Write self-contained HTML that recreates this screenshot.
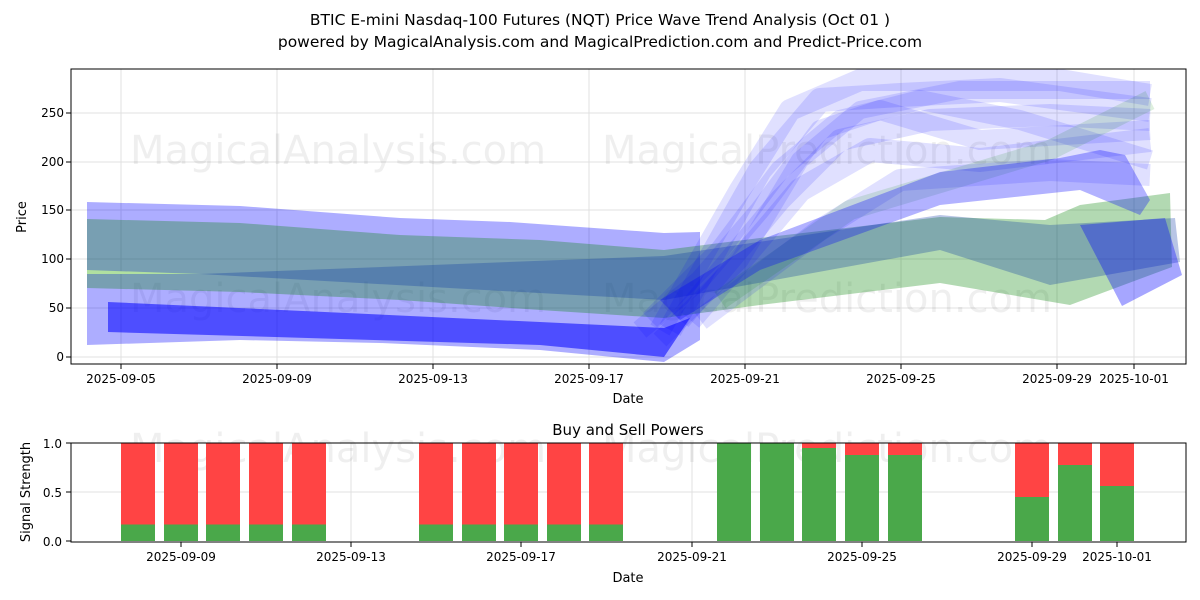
<!DOCTYPE html>
<html><head><meta charset="utf-8"><style>
body{margin:0;background:#fff}
svg{display:block;font-family:"DejaVu Sans","Liberation Sans",sans-serif}
</style></head><body>
<svg width="1200" height="600" viewBox="0 0 1200 600" xmlns="http://www.w3.org/2000/svg">
<rect width="1200" height="600" fill="#fff"/>
<text x="600" y="25" text-anchor="middle" font-size="15.5">BTIC E-mini Nasdaq-100 Futures (NQT) Price Wave Trend Analysis (Oct 01 )</text>
<text x="600" y="47" text-anchor="middle" font-size="15.5">powered by MagicalAnalysis.com and MagicalPrediction.com and Predict-Price.com</text>

<g stroke="#e0e0e0" stroke-width="1">
<line x1="121" y1="69" x2="121" y2="364"/><line x1="277" y1="69" x2="277" y2="364"/><line x1="433" y1="69" x2="433" y2="364"/><line x1="589" y1="69" x2="589" y2="364"/><line x1="745" y1="69" x2="745" y2="364"/><line x1="901" y1="69" x2="901" y2="364"/><line x1="1057" y1="69" x2="1057" y2="364"/><line x1="1134" y1="69" x2="1134" y2="364"/>
<line x1="71" y1="357" x2="1186" y2="357"/><line x1="71" y1="308" x2="1186" y2="308"/><line x1="71" y1="259" x2="1186" y2="259"/><line x1="71" y1="210" x2="1186" y2="210"/><line x1="71" y1="162" x2="1186" y2="162"/><line x1="71" y1="113" x2="1186" y2="113"/>
</g>
<g font-size="40" fill="#000" opacity="0.06">
<text x="130" y="164">MagicalAnalysis.com</text><text x="602" y="164">MagicalPrediction.com</text>
<text x="130" y="312">MagicalAnalysis.com</text><text x="602" y="312">MagicalPrediction.com</text>
</g>
<g>
<polygon points="87,202 240,206 400,218 510,222 664,233 700,232 700,340 664,362 540,350 380,343 240,340 87,345" fill="#0000ff" fill-opacity="0.32"/>
<polygon points="87,219 240,223 400,235 540,240 664,250 760,238 940,217 1045,220 1080,205 1170,193 1172,267 1070,305 940,283 760,305 664,318 540,310 400,300 240,292 87,288" fill="#008000" fill-opacity="0.3"/>
<polygon points="87,270 87,274 200,274" fill="#b0e0a0"/>
<polygon points="200,274 664,256 940,215 1050,225 1175,218 1180,262 1050,285 940,250 664,300" fill="#0030a0" fill-opacity="0.28"/>
<polygon points="108,302 540,322 664,328 690,318 664,357 540,345 108,332" fill="#0000ff" fill-opacity="0.55"/>
<g fill="none" stroke="#0000ff" stroke-linejoin="round" stroke-opacity="0.12">
<polyline stroke-width="22" points="660,330 740,190 790,110 860,80 950,80 1060,80 1150,95"/>
<polyline stroke-width="24" points="670,330 760,170 820,100 900,95 1000,90 1150,110"/>
<polyline stroke-width="22" points="680,320 780,200 840,140 930,120 1050,115 1150,120"/>
<polyline stroke-width="24" points="690,320 800,190 870,150 980,160 1150,140"/>
<polyline stroke-width="22" points="700,320 820,230 900,180 1050,170 1150,175"/>
<polyline stroke-width="20" points="650,320 720,250 780,170 840,120 920,100 1020,120 1150,160"/>
<polyline stroke-width="20" points="640,330 700,280 760,210 820,130 880,110 980,140 1150,130"/>
<polyline stroke-width="18" points="660,340 740,260 800,160 860,110 960,90 1150,90"/>
</g>
<polyline fill="none" stroke="#008000" stroke-width="20" stroke-opacity="0.13" stroke-linejoin="round" points="720,300 850,210 950,180 1050,150 1150,100"/>
<polygon points="660,300 760,240 940,172 1060,158 1100,150 1125,155 1150,200 1140,215 1080,190 940,205 760,270 680,320" fill="#0000ff" fill-opacity="0.3"/>
<polygon points="1080,225 1165,218 1182,275 1122,306" fill="#0000ff" fill-opacity="0.35"/>
</g>
<rect x="71" y="69" width="1115" height="295" fill="none" stroke="#000" stroke-width="1"/>
<g font-size="12" text-anchor="end">
<text x="64" y="361">0</text><text x="64" y="312">50</text><text x="64" y="263">100</text><text x="64" y="214">150</text><text x="64" y="166">200</text><text x="64" y="117">250</text>
</g>
<g stroke="#000"><line x1="66" y1="357" x2="71" y2="357"/><line x1="66" y1="308" x2="71" y2="308"/><line x1="66" y1="259" x2="71" y2="259"/><line x1="66" y1="210" x2="71" y2="210"/><line x1="66" y1="162" x2="71" y2="162"/><line x1="66" y1="113" x2="71" y2="113"/>
<line x1="121" y1="364" x2="121" y2="369"/><line x1="277" y1="364" x2="277" y2="369"/><line x1="433" y1="364" x2="433" y2="369"/><line x1="589" y1="364" x2="589" y2="369"/><line x1="745" y1="364" x2="745" y2="369"/><line x1="901" y1="364" x2="901" y2="369"/><line x1="1057" y1="364" x2="1057" y2="369"/><line x1="1134" y1="364" x2="1134" y2="369"/></g>
<g font-size="12" text-anchor="middle">
<text x="121" y="383">2025-09-05</text><text x="277" y="383">2025-09-09</text><text x="433" y="383">2025-09-13</text><text x="589" y="383">2025-09-17</text><text x="745" y="383">2025-09-21</text><text x="901" y="383">2025-09-25</text><text x="1057" y="383">2025-09-29</text><text x="1134" y="383">2025-10-01</text>
<text x="628" y="403" font-size="13">Date</text>
</g>
<text transform="translate(26,217) rotate(-90)" font-size="13" text-anchor="middle">Price</text>

<text x="628" y="435" text-anchor="middle" font-size="15">Buy and Sell Powers</text>
<g stroke="#e0e0e0"><line x1="181" y1="443" x2="181" y2="542"/><line x1="351" y1="443" x2="351" y2="542"/><line x1="521" y1="443" x2="521" y2="542"/><line x1="692" y1="443" x2="692" y2="542"/><line x1="862" y1="443" x2="862" y2="542"/><line x1="1032" y1="443" x2="1032" y2="542"/><line x1="1117" y1="443" x2="1117" y2="542"/>
<line x1="71" y1="492" x2="1186" y2="492"/><line x1="71" y1="443" x2="1186" y2="443"/></g>
<g font-size="40" fill="#000" opacity="0.06"><text x="130" y="462">MagicalAnalysis.com</text><text x="602" y="462">MagicalPrediction.com</text></g>
<g fill="#ff4444">
<rect x="121" y="443" width="34" height="98"/><rect x="164" y="443" width="34" height="98"/><rect x="206" y="443" width="34" height="98"/><rect x="249" y="443" width="34" height="98"/><rect x="292" y="443" width="34" height="98"/>
<rect x="419" y="443" width="34" height="98"/><rect x="462" y="443" width="34" height="98"/><rect x="504" y="443" width="34" height="98"/><rect x="547" y="443" width="34" height="98"/><rect x="589" y="443" width="34" height="98"/>
<rect x="717" y="443" width="34" height="98"/><rect x="760" y="443" width="34" height="98"/><rect x="802" y="443" width="34" height="98"/><rect x="845" y="443" width="34" height="98"/><rect x="888" y="443" width="34" height="98"/>
<rect x="1015" y="443" width="34" height="98"/><rect x="1058" y="443" width="34" height="98"/><rect x="1100" y="443" width="34" height="98"/>
</g>
<g fill="#4aa84a">
<rect x="121" y="524.5" width="34" height="16.5"/><rect x="164" y="524.5" width="34" height="16.5"/><rect x="206" y="524.5" width="34" height="16.5"/><rect x="249" y="524.5" width="34" height="16.5"/><rect x="292" y="524.5" width="34" height="16.5"/>
<rect x="419" y="524.5" width="34" height="16.5"/><rect x="462" y="524.5" width="34" height="16.5"/><rect x="504" y="524.5" width="34" height="16.5"/><rect x="547" y="524.5" width="34" height="16.5"/><rect x="589" y="524.5" width="34" height="16.5"/>
<rect x="717" y="443" width="34" height="98"/><rect x="760" y="443" width="34" height="98"/><rect x="802" y="448" width="34" height="93"/><rect x="845" y="455" width="34" height="86"/><rect x="888" y="455" width="34" height="86"/>
<rect x="1015" y="497" width="34" height="44"/><rect x="1058" y="465" width="34" height="76"/><rect x="1100" y="486" width="34" height="55"/>
</g>
<rect x="71" y="443" width="1115" height="99" fill="none" stroke="#000"/>
<g stroke="#000"><line x1="66" y1="541" x2="71" y2="541"/><line x1="66" y1="492" x2="71" y2="492"/><line x1="66" y1="443" x2="71" y2="443"/>
<line x1="181" y1="542" x2="181" y2="547"/><line x1="351" y1="542" x2="351" y2="547"/><line x1="521" y1="542" x2="521" y2="547"/><line x1="692" y1="542" x2="692" y2="547"/><line x1="862" y1="542" x2="862" y2="547"/><line x1="1032" y1="542" x2="1032" y2="547"/><line x1="1117" y1="542" x2="1117" y2="547"/></g>
<g font-size="12" text-anchor="end"><text x="62" y="546">0.0</text><text x="62" y="497">0.5</text><text x="62" y="448">1.0</text></g>
<g font-size="12" text-anchor="middle">
<text x="181" y="561">2025-09-09</text><text x="351" y="561">2025-09-13</text><text x="521" y="561">2025-09-17</text><text x="692" y="561">2025-09-21</text><text x="862" y="561">2025-09-25</text><text x="1032" y="561">2025-09-29</text><text x="1117" y="561">2025-10-01</text>
<text x="628" y="582" font-size="13">Date</text></g>
<text transform="translate(30,492) rotate(-90)" font-size="13" text-anchor="middle">Signal Strength</text>
</svg>
</body></html>
